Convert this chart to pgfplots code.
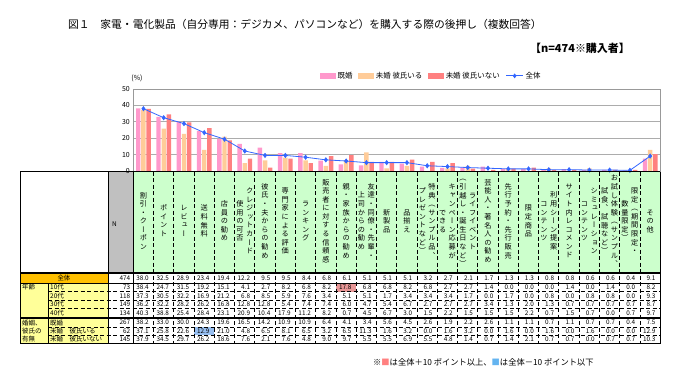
\documentclass[border=0pt]{standalone}
\usepackage{fontspec}
\setmainfont{Noto Sans CJK JP}
\newfontfamily\vfont[RawFeature={+vert}]{Noto Sans CJK JP}
\usepackage{pgfplots}
\usepackage{pgfplotstable}
\pgfplotsset{compat=1.18}
\pgfkeys{/pgf/number format/assume math mode=true}

\definecolor{pinkc}{RGB}{255,153,204}
\definecolor{peachc}{RGB}{255,204,153}
\definecolor{redc}{RGB}{255,128,128}
\definecolor{bluec}{RGB}{51,102,255}
\definecolor{greenh}{RGB}{204,255,204}
\definecolor{orangeh}{RGB}{255,192,0}
\definecolor{yellowh}{RGB}{255,255,153}
\definecolor{grayh}{RGB}{192,192,192}
\definecolor{hired}{RGB}{232,150,150}
\definecolor{hiblue}{RGB}{150,190,240}
\definecolor{mark1}{RGB}{255,128,128}
\definecolor{mark2}{RGB}{100,180,240}

% vertical text: one character per line
\def\vtloop#1{#1\futurelet\vtnexttok\vtcheck}
\def\vtcheck{\ifx\vtnexttok\relax\expandafter\vtend\else\expandafter\vtnext\fi}
\def\vtnext{\\\vtloop}
\def\vtend\relax{}
\newcommand\vt[1]{{\renewcommand\arraystretch{1}\setlength\tabcolsep{0pt}\begin{tabular}{c}\vtloop#1\relax\end{tabular}}}
\newcommand\vtt[2]{\vt{#2}\hspace{2.5pt}\vt{#1}}

\pgfplotstableread{
i all r10 r20 r30 r40 kon mia mib
0 38.0 38.4 37.3 36.2 40.3 38.2 37.1 37.9
1 32.5 24.7 30.5 32.2 38.8 33.0 25.8 34.5
2 28.9 31.5 32.2 28.2 25.4 30.0 22.6 29.7
3 23.4 19.2 16.9 26.2 28.4 24.3 12.9 26.2
4 19.4 15.1 21.2 16.8 23.1 19.6 21.0 18.6
5 12.2 4.1 6.8 12.8 20.9 16.5 4.8 7.6
6 9.5 2.7 8.5 12.8 10.4 14.2 6.5 2.1
7 9.5 8.2 5.9 5.4 17.9 10.9 8.1 7.6
8 8.4 6.8 7.6 7.4 11.2 10.9 6.5 4.8
9 6.8 8.2 3.4 7.4 8.2 6.4 3.2 9.0
10 6.1 17.8 5.1 6.0 0.7 4.1 6.5 9.7
11 5.1 6.8 5.1 4.7 4.5 3.4 11.3 5.5
12 5.1 6.8 1.7 5.4 6.7 5.6 1.6 5.5
13 5.1 8.2 3.4 6.7 3.0 4.5 3.2 6.9
14 3.2 6.8 3.4 2.7 1.5 2.6 0.0 5.5
15 2.7 2.7 3.4 2.7 2.2 1.9 1.6 4.8
16 2.1 2.7 1.7 2.7 1.5 2.2 3.2 1.4
17 1.7 1.4 0.0 3.4 1.5 2.6 0.0 0.7
18 1.3 0.0 1.7 1.3 1.5 1.1 1.6 1.4
19 1.3 0.0 0.0 2.0 2.2 1.1 0.0 2.1
20 0.8 0.0 0.8 1.3 0.7 0.7 1.6 0.7
21 0.8 1.4 0.0 0.7 1.5 1.1 0.0 0.7
22 0.6 0.0 0.8 0.7 0.7 0.7 1.6 0.0
23 0.6 1.4 0.8 0.7 0.0 0.7 0.0 0.7
24 0.4 0.0 0.0 0.7 0.7 0.4 0.0 0.7
25 9.1 8.2 9.3 8.7 9.7 7.5 12.9 10.3
}\data

\pgfplotstableread{
y N
-65.12 474
-70.91 73
-76.10 118
-81.28 149
-86.46 134
-92.50 267
-97.62 62
-102.68 145
}\ntab

\pgfplotsset{
  tblrow/.style={draw=none, mark=none, forget plot, point meta=explicit,
    nodes near coords={\pgfmathprintnumber[fixed,fixed zerofill,precision=1]{\pgfplotspointmeta}},
    every node near coord/.style={anchor=east, inner sep=0pt, font=\fontsize{6.4}{6.4}\selectfont}},
}

\begin{document}
\begin{tikzpicture}
\useasboundingbox (0,0) rectangle (675bp,-377bp);
\begin{scope}[x=1bp,y=-1bp]
  \fill[greenh] (133.3,171.5) rectangle (660.3,272.5);
  \fill[grayh] (108.5,171.5) rectangle (133.3,272.5);
  \fill[orangeh] (20,273) rectangle (108.5,282.8);
  \fill[yellowh] (20,283) rectangle (108.5,343.5);
  \fill[hired] (336.0,283.5) rectangle (356.3,291.5);
  \fill[hiblue] (194.1,327) rectangle (214.4,335.3);
\end{scope}

\begin{axis}[at={(133.3bp,-171bp)}, anchor=south west, scale only axis,
  width=527bp, height=82bp, xmin=-0.5, xmax=25.5, ymin=0, ymax=50,
  ytick={0,10,...,50}, xtick=\empty, ymajorgrids,
  grid style={draw=gray!65, line width=0.9bp},
  axis line style={draw=gray!80, line width=0.9bp},
  major tick length=0pt, clip=false,
  tick label style={font=\fontsize{7}{8}\selectfont},
  legend style={at={(0.5655,1.16)}, anchor=center, draw=none, fill=none,
    font=\fontsize{7.5}{8}\selectfont, legend columns=4,
    /tikz/every even column/.append style={column sep=4bp},
    inner sep=0pt},
  legend cell align=left]
  \addlegendimage{legend image code/.code={\fill[pinkc] (0bp,-2.2bp) rectangle (15bp,2.2bp);}}
  \addlegendentry{既婚}
  \addlegendimage{legend image code/.code={\fill[peachc] (0bp,-2.2bp) rectangle (15bp,2.2bp);}}
  \addlegendentry{未婚 彼氏いる}
  \addlegendimage{legend image code/.code={\fill[redc] (0bp,-2.2bp) rectangle (15bp,2.2bp);}}
  \addlegendentry{未婚 彼氏いない}
  \addlegendimage{bluec, line width=0.8bp, mark=diamond*, mark size=1.8bp}
  \addlegendentry{全体}

  \addplot[ybar, bar width=4.4bp, bar shift=-5.2bp, fill=pinkc, draw=none, forget plot] table[x=i,y=kon]{\data};
  \addplot[ybar, bar width=4.4bp, bar shift=0bp, fill=peachc, draw=none, forget plot] table[x=i,y=mia]{\data};
  \addplot[ybar, bar width=4.4bp, bar shift=5.2bp, fill=redc, draw=none, forget plot] table[x=i,y=mib]{\data};
  \addplot[bluec, line width=0.8bp, mark=diamond*, mark size=2bp, forget plot] table[x=i,y=all]{\data};

  \addplot[tblrow] table[x expr=\thisrow{i}+0.27, y expr=-65.12, meta=all]{\data};
  \addplot[tblrow] table[x expr=\thisrow{i}+0.27, y expr=-70.91, meta=r10]{\data};
  \addplot[tblrow] table[x expr=\thisrow{i}+0.27, y expr=-76.10, meta=r20]{\data};
  \addplot[tblrow] table[x expr=\thisrow{i}+0.27, y expr=-81.28, meta=r30]{\data};
  \addplot[tblrow] table[x expr=\thisrow{i}+0.27, y expr=-86.46, meta=r40]{\data};
  \addplot[tblrow] table[x expr=\thisrow{i}+0.27, y expr=-92.50, meta=kon]{\data};
  \addplot[tblrow] table[x expr=\thisrow{i}+0.27, y expr=-97.62, meta=mia]{\data};
  \addplot[tblrow] table[x expr=\thisrow{i}+0.27, y expr=-102.68, meta=mib]{\data};
  \addplot[draw=none, mark=none, forget plot, point meta=explicit symbolic, nodes near coords,
    every node near coord/.style={anchor=east, inner sep=0pt, font=\fontsize{6.4}{6.4}\selectfont}]
    table[x expr=-0.64, y=y, meta=N]{\ntab};
\end{axis}

\begin{scope}[x=1bp,y=-1bp]
  % grid lines of the table
  \foreach \k in {1,...,25}
    \draw[black, line width=1bp, dash pattern=on 4bp off 2.5bp] ({133.3+\k*20.27},171.5) -- ({133.3+\k*20.27},343.5);
  \foreach \yy in {291.5,300,308.5,327,335.3}
    \draw[black, line width=0.6bp, dash pattern=on 4bp off 2.5bp] (48,\yy) -- (660.3,\yy);
  \draw[black, line width=0.8bp] (20,171.5) -- (660.3,171.5);
  \draw[black, line width=0.8bp] (20,171.5) -- (20,343.5);
  \draw[black, line width=0.8bp] (108.5,171.5) -- (108.5,343.5);
  \draw[black, line width=1.3bp] (133.3,171.5) -- (133.3,343.5);
  \draw[black, line width=1bp] (660.3,171.5) -- (660.3,343.5);
  \draw[black, line width=0.6bp] (48,283) -- (48,343.5);
  \draw[black, line width=1.5bp] (20,272.8) -- (660.3,272.8);
  \draw[black, line width=1bp] (20,283) -- (660.3,283);
  \draw[black, line width=1.5bp] (20,317.8) -- (660.3,317.8);
  \draw[black, line width=1bp] (20,343.5) -- (660.3,343.5);

  % category headers (vertical text)
  \foreach \lab [count=\j from 0] in {
    {\vt{割引・クーポン}},
    {\vt{ポイント}},
    {\vt{レビュー}},
    {\vt{送料無料}},
    {\vt{店員の勧め}},
    {\vtt{クレジットカード}{使用の可否}},
    {\vt{彼氏・夫からの勧め}},
    {\vt{専門家による評価}},
    {\vt{ランキング}},
    {\vt{販売者に対する信頼感}},
    {\vt{親・家族からの勧め}},
    {\vtt{友達・同僚・先輩・}{上司からの勧め}},
    {\vt{新製品}},
    {\vt{品揃え}},
    {\vtt{特典（サンプル品、}{プレゼントなど）}},
    {\vtt{キャンペーン応募が}{できる}},
    {\vtt{ライフイベント}{（引越し・誕生日など）}},
    {\vt{芸能人・著名人の勧め}},
    {\vt{先行予約・先行販売}},
    {\vt{限定商品}},
    {\vtt{利用シーン提案}{コンテンツ}},
    {\vt{サイト内レコメンド}},
    {\vtt{シミュレーション}{コンテンツ}},
    {\vtt{お試し体験（サンプル、}{試食、試聴など）}},
    {\vtt{限定（期間限定・}{数量限定）}},
    {\vt{その他}}}
    \node[inner sep=0pt, font=\vfont\fontsize{7.2}{8.6}\selectfont] at ({133.3+(\j+0.5)*20.27},222) {\lab};

  \node[anchor=west, inner sep=0pt, font=\fontsize{6.5}{7}\selectfont] at (112,224) {N};

  % row labels
  \begin{scope}[every node/.style={inner sep=0pt, font=\fontsize{6.5}{7}\selectfont}]
    \node at (64,277.8) {全体};
    \node[anchor=west] at (22,287.3) {年齢};
    \node[anchor=west] at (50,287.3) {10代};
    \node[anchor=west] at (50,295.8) {20代};
    \node[anchor=west] at (50,304.3) {30代};
    \node[anchor=west] at (50,312.8) {40代};
    \node[anchor=west] at (22,322.7) {婚姻、};
    \node[anchor=west] at (22,331.1) {彼氏の};
    \node[anchor=west] at (22,339.4) {有無};
    \node[anchor=west] at (50,322.7) {既婚};
    \node[anchor=west] at (50,331.1) {未婚　彼氏いる};
    \node[anchor=west] at (50,339.4) {未婚　彼氏いない};
  \end{scope}

  % texts
  \node[anchor=west, inner sep=0pt, font=\fontsize{10.8}{12}\selectfont] at (68,24) {図１　家電・電化製品（自分専用：デジカメ、パソコンなど）を購入する際の後押し（複数回答）};
  \node[anchor=east, inner sep=0pt, font=\fontsize{11}{12}\selectfont\bfseries] at (630,48) {【n=474※購入者】};
  \node[inner sep=0pt, font=\fontsize{7}{8}\selectfont] at (137,78) {(\%)};
  \node[anchor=west, inner sep=0pt, font=\fontsize{8.3}{9}\selectfont] at (373,362.5) {※\textcolor{mark1}{■}は全体＋10 ポイント以上、\textcolor{mark2}{■}は全体－10 ポイント以下};
\end{scope}
\end{tikzpicture}
\end{document}
